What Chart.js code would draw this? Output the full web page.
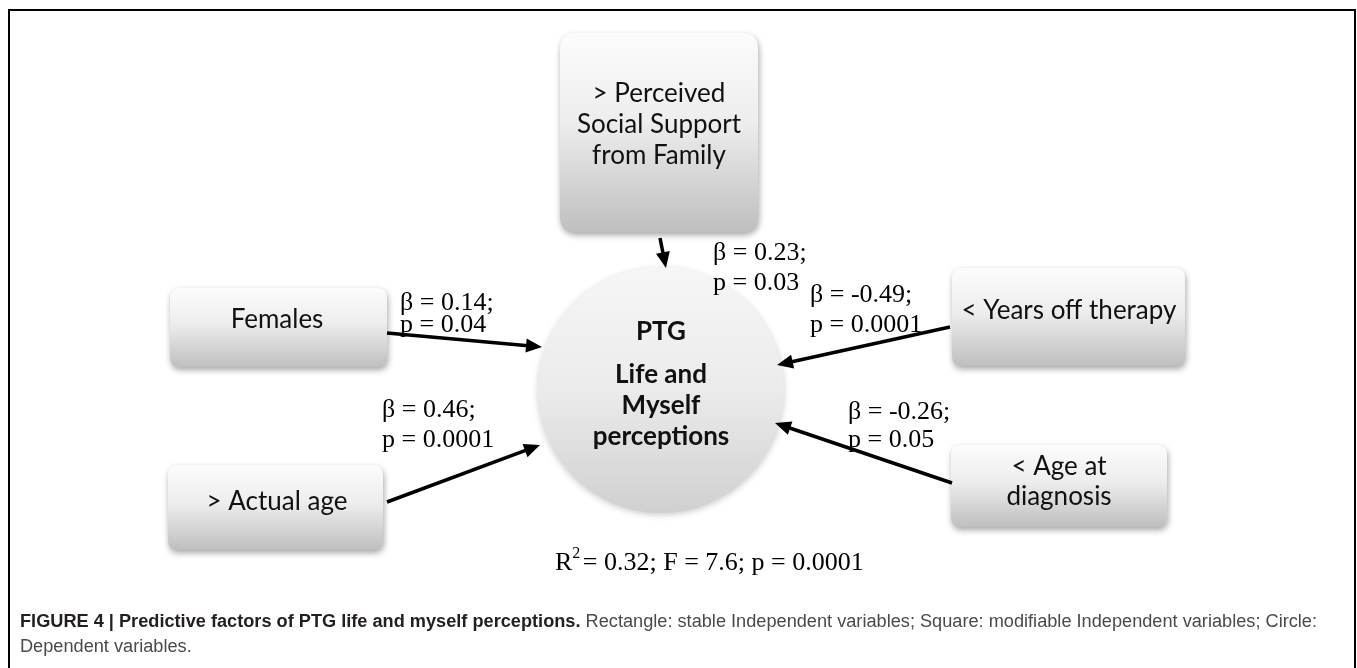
<!DOCTYPE html>
<html>
<head>
<meta charset="utf-8">
<script src="https://cdn.jsdelivr.net/npm/chart.js@4.4.1/dist/chart.umd.min.js"></script>
<style>
  html, body { margin: 0; padding: 0; background: #fff; }
  #wrap { width: 1357px; height: 668px; }
</style>
</head>
<body>
<div id="wrap"><canvas id="pathChart" width="1357" height="668"></canvas></div>
<script>
// predictors -> PTG "Life and Myself perceptions"
const predictorLabels = [
    ["> Perceived", "Social Support", "from Family"],
    ["Females"],
    ["> Actual age"],
    ["< Years off therapy"],
    ["< Age at", "diagnosis"]
];
const betaValues = [0.23, 0.14, 0.46, -0.49, -0.26];
const pValues = ["0.03", "0.04", "0.0001", "0.0001", "0.05"];
const outcomeTitle = "PTG";
const outcomeLabel = ["Life and", "Myself", "perceptions"];
const modelR2 = "0.32";
const modelF = "7.6";
const modelP = "0.0001";
const captionBold = "FIGURE 4 | Predictive factors of PTG life and myself perceptions.";
const captionRest = " Rectangle: stable Independent variables; Square: modifiable Independent variables; Circle:";
const captionLine2 = "Dependent variables.";

// layout, in the units of the (hidden) x / y axes
const boxes = [
    { x: 560, y: 33, w: 198, h: 199, r: 16, tx: 659, ty: 94, lh: 31 },
    { x: 170, y: 288, w: 217, h: 79, r: 10, tx: 277, ty: 320, lh: 30 },
    { x: 168, y: 465, w: 215, h: 85, r: 10, tx: 277, ty: 502, lh: 30 },
    { x: 952, y: 268, w: 233, h: 98, r: 10, tx: 1069, ty: 311, lh: 30 },
    { x: 951, y: 445, w: 216, h: 82, r: 10, tx: 1059, ty: 467, lh: 30 }
];
const arrows = [
    [[660, 238], [666, 268]],
    [[387, 333], [542, 347]],
    [[387, 502], [540, 445]],
    [[950, 327], [777, 365]],
    [[952, 483], [775, 423]]
];
const labelPos = [[713, 253, 30], [400, 303, 22], [382, 410, 30], [810, 295, 30], [848, 412, 28]];
const outcome = { cx: 661, cy: 390, r: 123, titleY: 332, textY: 375, lh: 31 };
const headLen = 16;

function roundRect(ctx, x, y, w, h, r) {
    ctx.beginPath();
    ctx.moveTo(x + r, y);
    ctx.lineTo(x + w - r, y);
    ctx.quadraticCurveTo(x + w, y, x + w, y + r);
    ctx.lineTo(x + w, y + h - r);
    ctx.quadraticCurveTo(x + w, y + h, x + w - r, y + h);
    ctx.lineTo(x + r, y + h);
    ctx.quadraticCurveTo(x, y + h, x, y + h - r);
    ctx.lineTo(x, y + r);
    ctx.quadraticCurveTo(x, y, x + r, y);
    ctx.closePath();
}

// arrow shafts stop at the base of the head
let arrowDatasets = arrows.map(a => {
    let dx = a[1][0] - a[0][0], dy = a[1][1] - a[0][1];
    let len = Math.hypot(dx, dy);
    let bx = a[1][0] - dx / len * (headLen - 2), by = a[1][1] - dy / len * (headLen - 2);
    return {
        data: [{ x: a[0][0], y: a[0][1] }, { x: bx, y: by }],
        showLine: true,
        borderColor: "#000",
        borderWidth: 3.5,
        borderCapStyle: "butt",
        pointRadius: 0,
        clip: false
    };
});

const diagramPlugin = {
    id: "diagram",
    beforeDatasetsDraw(chart) {
        const ctx = chart.ctx, sx = chart.scales.x, sy = chart.scales.y;
        const px = v => sx.getPixelForValue(v), py = v => sy.getPixelForValue(v);

        // dependent variable circle
        let cx = px(outcome.cx), cy = py(outcome.cy), r = px(outcome.cx + outcome.r) - cx;
        ctx.save();
        ctx.shadowColor = "rgba(0,0,0,0.2)";
        ctx.shadowBlur = 6;
        ctx.shadowOffsetY = 2;
        let cg = ctx.createLinearGradient(0, cy - r, 0, cy + r);
        cg.addColorStop(0, "#f6f6f6");
        cg.addColorStop(0.5, "#ebebeb");
        cg.addColorStop(1, "#d0d0d0");
        ctx.fillStyle = cg;
        ctx.beginPath();
        ctx.arc(cx, cy, r, 0, Math.PI * 2);
        ctx.fill();
        ctx.restore();

        // predictor boxes
        boxes.forEach(b => {
            let x0 = px(b.x), y0 = py(b.y), x1 = px(b.x + b.w), y1 = py(b.y + b.h);
            ctx.save();
            ctx.shadowColor = "rgba(0,0,0,0.35)";
            ctx.shadowBlur = 6;
            ctx.shadowOffsetX = 1;
            ctx.shadowOffsetY = 3;
            let g = ctx.createLinearGradient(0, y0, 0, y1);
            g.addColorStop(0, "#fcfcfc");
            g.addColorStop(0.45, "#ededed");
            g.addColorStop(1, "#bfbfbf");
            ctx.fillStyle = g;
            roundRect(ctx, x0, y0, x1 - x0, y1 - y0, b.r);
            ctx.fill();
            ctx.restore();
        });
    },
    afterDatasetsDraw(chart) {
        const ctx = chart.ctx, sx = chart.scales.x, sy = chart.scales.y;
        const px = v => sx.getPixelForValue(v), py = v => sy.getPixelForValue(v);

        // arrow heads
        ctx.save();
        ctx.fillStyle = "#000";
        arrows.forEach(a => {
            let x0 = px(a[0][0]), y0 = py(a[0][1]), x1 = px(a[1][0]), y1 = py(a[1][1]);
            let ang = Math.atan2(y1 - y0, x1 - x0);
            ctx.beginPath();
            ctx.moveTo(x1, y1);
            ctx.lineTo(x1 - headLen * Math.cos(ang) + 7 * Math.sin(ang), y1 - headLen * Math.sin(ang) - 7 * Math.cos(ang));
            ctx.lineTo(x1 - headLen * Math.cos(ang) - 7 * Math.sin(ang), y1 - headLen * Math.sin(ang) + 7 * Math.cos(ang));
            ctx.closePath();
            ctx.fill();
        });
        ctx.restore();

        ctx.save();
        ctx.textBaseline = "middle";

        // box texts
        ctx.fillStyle = "#111";
        ctx.textAlign = "center";
        ctx.font = "26px Lato, 'Open Sans', sans-serif";
        predictorLabels.forEach((lines, i) => {
            let b = boxes[i];
            lines.forEach((t, j) => ctx.fillText(t, px(b.tx), py(b.ty + j * b.lh)));
        });

        // circle texts
        ctx.font = "bold 26px Lato, 'Open Sans', sans-serif";
        ctx.fillText(outcomeTitle, px(outcome.cx), py(outcome.titleY));
        outcomeLabel.forEach((t, j) => ctx.fillText(t, px(outcome.cx), py(outcome.textY + j * outcome.lh)));

        // coefficients
        ctx.textAlign = "left";
        ctx.fillStyle = "#000";
        ctx.font = "26px 'Liberation Serif', 'Times New Roman', serif";
        betaValues.forEach((b, i) => {
            let p = labelPos[i];
            ctx.fillText("\u03b2 = " + b.toFixed(2) + ";", px(p[0]), py(p[1]));
            ctx.fillText("p = " + pValues[i], px(p[0]), py(p[1] + p[2]));
        });

        // model fit
        let mx = px(555), my = py(563);
        ctx.fillText("R", mx, my);
        let rw = ctx.measureText("R").width;
        ctx.font = "16px 'Liberation Serif', 'Times New Roman', serif";
        ctx.fillText("2", mx + rw, my - 9);
        let sw = ctx.measureText("2").width;
        ctx.font = "26px 'Liberation Serif', 'Times New Roman', serif";
        ctx.fillText(" = " + modelR2 + "; F = " + modelF + "; p = " + modelP, mx + rw + sw - 4, my);
        ctx.restore();
    },
    afterDraw(chart) {
        const ctx = chart.ctx;
        // figure frame
        ctx.save();
        ctx.strokeStyle = "#000";
        ctx.lineWidth = 2;
        ctx.beginPath();
        ctx.moveTo(9, 668);
        ctx.lineTo(9, 10);
        ctx.lineTo(1355, 10);
        ctx.lineTo(1355, 668);
        ctx.stroke();

        // caption (condensed face, squeezed to the measured line width)
        ctx.textBaseline = "middle";
        ctx.textAlign = "left";
        let boldFont = "bold 18px 'Liberation Sans Narrow', 'Liberation Sans', Arial, sans-serif";
        let normFont = "18px 'Liberation Sans Narrow', 'Liberation Sans', Arial, sans-serif";
        ctx.font = boldFont;
        let bw = ctx.measureText(captionBold).width;
        ctx.font = normFont;
        let nw = ctx.measureText(captionRest).width;
        let k = 1297 / (bw + nw);
        ctx.translate(20, 622);
        ctx.scale(k, 1);
        ctx.font = boldFont;
        ctx.fillStyle = "#231f20";
        ctx.fillText(captionBold, 0, 0);
        ctx.font = normFont;
        ctx.fillStyle = "#4a4a4a";
        ctx.fillText(captionRest, bw, 0);
        ctx.fillText(captionLine2, 0, 25);
        ctx.restore();
    }
};

new Chart(document.getElementById("pathChart"), {
    type: "scatter",
    data: { datasets: arrowDatasets },
    options: {
        responsive: false,
        animation: false,
        events: [],
        layout: { padding: 0 },
        scales: {
            x: { type: "linear", display: false, min: 0, max: 1357 },
            y: { type: "linear", display: false, min: 0, max: 668, reverse: true }
        },
        plugins: {
            legend: { display: false },
            tooltip: { enabled: false }
        }
    },
    plugins: [diagramPlugin]
});
</script>
</body>
</html>
